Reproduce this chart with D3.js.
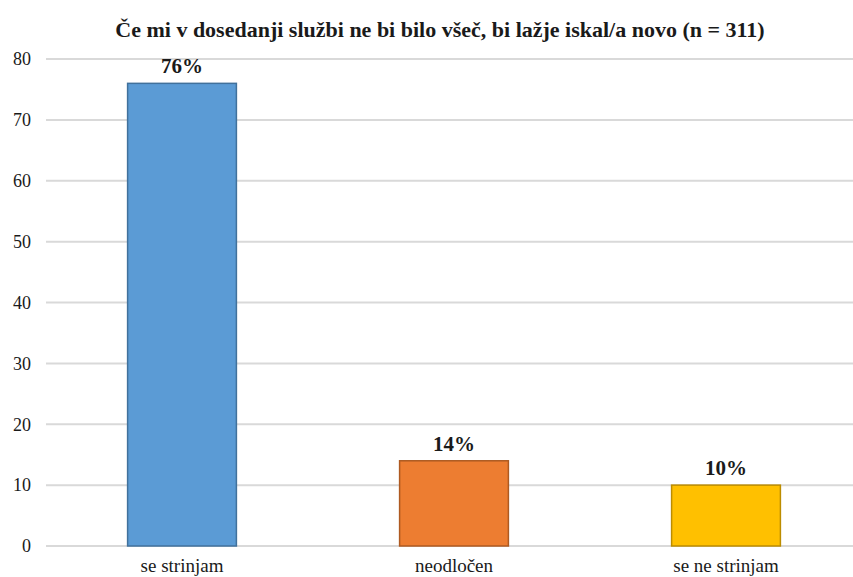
<!DOCTYPE html>
<html>
<head>
<meta charset="utf-8">
<script src="https://cdn.jsdelivr.net/npm/d3@7"></script>
<style>
  body { margin: 0; background: #fff; }
  svg { display: block; }
</style>
</head>
<body>
<div id="chart"></div>
<script>
const categories = ["se strinjam", "neodločen", "se ne strinjam"];
const values = [76, 14, 10];
const valueLabels = ["76%", "14%", "10%"];
const yTicks = [0, 10, 20, 30, 40, 50, 60, 70, 80];
const barColors = ["#5b9bd5", "#ed7d31", "#ffc000"];
const barStrokes = ["#41719c", "#ae5a21", "#bc8c00"];
const title = "Če mi v dosedanji službi ne bi bilo všeč, bi lažje iskal/a novo (n = 311)";

const serif = "Liberation Serif";
const svgWidth = 853, svgHeight = 577;
const margin = { top: 59, right: -9, bottom: 31, left: 46 };
const width = svgWidth - margin.left - margin.right;
const height = svgHeight - margin.top - margin.bottom;

const svg = d3.select("#chart")
    .append("svg")
    .attr("width", svgWidth)
    .attr("height", svgHeight);

svg.append("text")
    .attr("x", 440)
    .attr("y", 37)
    .attr("text-anchor", "middle")
    .attr("font-family", serif)
    .attr("font-size", 22)
    .attr("font-weight", "bold")
    .attr("fill", "#1a1a1a")
    .text(title);

const g = svg.append("g")
    .attr("transform", `translate(${margin.left},${margin.top})`);

const x = d3.scaleBand()
    .domain(categories)
    .range([0, width])
    .paddingInner(0.6)
    .paddingOuter(0.3);

const y = d3.scaleLinear()
    .domain([0, 80])
    .range([height, 0]);

// gridlines
g.append("g")
    .selectAll("line")
    .data(yTicks)
    .enter()
    .append("line")
    .attr("x1", 0)
    .attr("x2", width)
    .attr("y1", d => y(d))
    .attr("y2", d => y(d))
    .attr("stroke", "#d9d9d9")
    .attr("stroke-width", 2);

// y tick labels
const yAxis = g.append("g")
    .call(d3.axisLeft(y).tickValues(yTicks).tickSize(0).tickPadding(15));
yAxis.select(".domain").remove();
yAxis.selectAll("text")
    .attr("font-family", serif)
    .attr("font-size", 18)
    .attr("fill", "#1a1a1a");

// bars
g.selectAll("rect.bar")
    .data(values)
    .enter()
    .append("rect")
    .attr("class", "bar")
    .attr("x", (d, i) => x(categories[i]))
    .attr("y", d => y(d))
    .attr("width", x.bandwidth())
    .attr("height", d => height - y(d))
    .attr("fill", (d, i) => barColors[i])
    .attr("stroke", (d, i) => barStrokes[i])
    .attr("stroke-width", 1.5);

// value labels
g.selectAll("text.value")
    .data(values)
    .enter()
    .append("text")
    .attr("class", "value")
    .attr("x", (d, i) => x(categories[i]) + x.bandwidth() / 2)
    .attr("y", d => y(d) - 10)
    .attr("text-anchor", "middle")
    .attr("font-family", serif)
    .attr("font-size", 21)
    .attr("font-weight", "bold")
    .attr("fill", "#1a1a1a")
    .text((d, i) => valueLabels[i]);

// category labels
const xAxis = g.append("g")
    .attr("transform", `translate(0,${height})`)
    .call(d3.axisBottom(x).tickSize(0).tickPadding(13));
xAxis.select(".domain").remove();
xAxis.selectAll("text")
    .attr("font-family", serif)
    .attr("font-size", 19)
    .attr("fill", "#1a1a1a");
</script>
</body>
</html>
